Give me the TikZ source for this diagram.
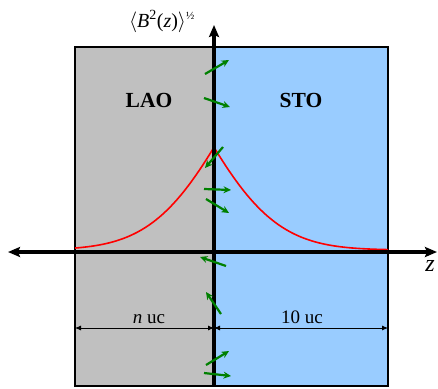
\documentclass[tikz,border=0pt]{standalone}
\usepackage{fontspec}
\setmainfont{Liberation Serif}
\usetikzlibrary{arrows.meta,positioning}
\definecolor{laogray}{RGB}{192,192,192}
\definecolor{stoblue}{RGB}{153,204,255}
\definecolor{spingreen}{RGB}{0,128,0}

\begin{document}
\begin{tikzpicture}[x=1pt,y=-1pt,
  layer/.style={draw=black,line width=1.6pt},
  axis/.style={line width=3.4pt,{Stealth[length=12pt,width=10pt,inset=2pt]}-{Stealth[length=12pt,width=10pt,inset=2pt]}},
  spin/.style={spingreen,line width=2.2pt,-{Stealth[length=7.5pt,width=7pt]}},
  dim/.style={line width=0.8pt,{Latex[length=6pt,width=5pt]}-{Latex[length=6pt,width=5pt]}},
  profile/.style={red,line width=1.6pt},
  tag/.style={font=\fontsize{21.5}{21.5}\selectfont\bfseries},
  dimtag/.style={font=\fontsize{19}{19}\selectfont,anchor=base}
]
  \useasboundingbox (0,0) rectangle (438,388);

  % layers
  \filldraw[layer,fill=laogray] (75,47) rectangle (214,386);
  \filldraw[layer,fill=stoblue] (214,47) rectangle (388,386);
  \node[tag] (lao) at (149,100) {LAO};
  \node[tag] (sto) at (301,100) {STO};

  % field profile
  \draw[profile] plot[domain=75:214,samples=80]
    (\x,{250-102.7*exp(-0.0159*(214-\x)-0.905*((214-\x)/100)^2)});
  \draw[profile] plot[domain=214:388,samples=80]
    (\x,{250-102.7*exp(-0.0159*(\x-214)-0.905*((\x-214)/100)^2)});

  % axes
  \coordinate (zl) at (8,252);
  \coordinate (zr) at (437,252);
  \coordinate (bb) at (214,386);
  \coordinate (bt) at (214,25);
  \draw[axis] (zl) -- (zr);
  \draw[line width=3.4pt,-{Stealth[length=12pt,width=10pt,inset=2pt]}] (bb) -- (bt);
  \node[font=\fontsize{24}{24}\selectfont\itshape] (zlab) at (430,266) {z};
  \node[font=\fontsize{20}{20}\selectfont,anchor=base east,inner sep=0pt] (blab) at (195,27)
    {$\langle$\textit{B}\textsuperscript{2}(\textit{z})$\rangle$\textsuperscript{\fontsize{11}{11}\selectfont ½}};

  % spins
  \foreach \sx/\sy/\ex/\ey in {205/74/229/60, 204/98/230/107, 223/147/205/168,
    204/189/231/190, 206/199/229/213, 226/266/200/257, 221/314/206/292,
    206/365/229/351, 204/373/231/376}
    \draw[spin] (\sx,\sy) -- (\ex,\ey);

  % thicknesses
  \coordinate (dl) at (75,328);
  \coordinate (dm) at (214,328);
  \coordinate (dr) at (388,328);
  \draw[dim] (dl) -- (dm);
  \draw[dim] (dm) -- (dr);
  \node[dimtag] (nuc) at (149,323) {\textit{n} uc};
  \node[dimtag] (tenuc) at (302,323) {10 uc};
\end{tikzpicture}
\end{document}
